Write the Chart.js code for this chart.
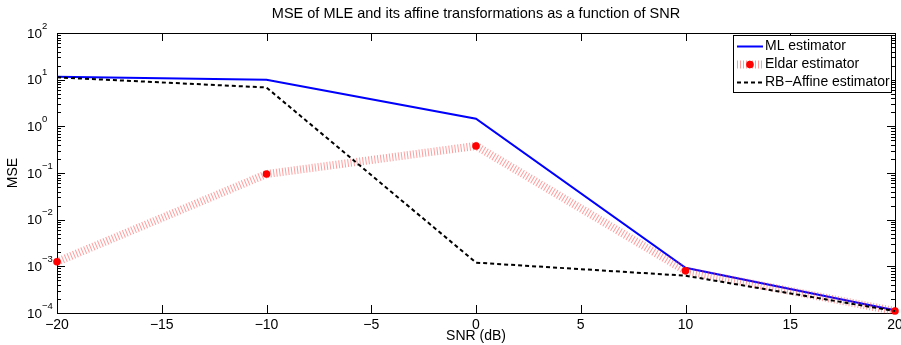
<!DOCTYPE html>
<html><head><meta charset="utf-8">
<script src="https://cdn.jsdelivr.net/npm/chart.js@4"></script>
<style>html,body{margin:0;padding:0;background:#fff;overflow:hidden}</style>
</head><body>
<canvas id="c" width="901" height="345"></canvas>
<script>
// ---- data ----
const snrDb = [-20, -10, 0, 10, 20];
const mlMSE = [11.5, 10.0, 1.45, 9.3e-4, 1.15e-4];
const eldarMSE = [1.25e-3, 0.095, 0.38, 8.0e-4, 1.1e-4];
const rbAffineMSE = [11.2, 6.8, 1.2e-3, 6.3e-4, 1.1e-4];
const seriesNames = ['ML estimator', 'Eldar estimator', 'RB\u2212Affine estimator'];
const xTickValues = [-20, -15, -10, -5, 0, 5, 10, 15, 20];
const yTickExponents = [-4, -3, -2, -1, 0, 1, 2];
const titleText = 'MSE of MLE and its affine transformations as a function of SNR';
const xLabel = 'SNR (dB)';
const yLabel = 'MSE';

const FONT = "'Liberation Sans', Arial, Helvetica, sans-serif";
Chart.defaults.font.family = FONT;
Chart.defaults.font.size = 14;
Chart.defaults.color = '#000';

const yTickValues = yTickExponents.map(e => Math.pow(10, e));
const yMinorValues = [];
for (let i = 0; i < yTickExponents.length - 1; i++) {
  for (let k = 2; k <= 9; k++) yMinorValues.push(k * Math.pow(10, yTickExponents[i]));
}

const axesPlugin = {
  id: 'matlabAxes',
  beforeDatasetsDraw(chart) {
    const {ctx, chartArea: a, scales: {x, y}} = chart;
    ctx.save();
    ctx.strokeStyle = '#000';
    ctx.lineWidth = 1;
    ctx.beginPath();
    xTickValues.forEach(v => {
      const px = Math.round(x.getPixelForValue(v)) + 0.5;
      ctx.moveTo(px, a.bottom); ctx.lineTo(px, a.bottom - 8);
      ctx.moveTo(px, a.top); ctx.lineTo(px, a.top + 8);
    });
    yTickValues.forEach(v => {
      const py = Math.round(y.getPixelForValue(v)) + 0.5;
      ctx.moveTo(a.left, py); ctx.lineTo(a.left + 8, py);
      ctx.moveTo(a.right, py); ctx.lineTo(a.right - 8, py);
    });
    yMinorValues.forEach(v => {
      const py = Math.round(y.getPixelForValue(v)) + 0.5;
      ctx.moveTo(a.left, py); ctx.lineTo(a.left + 4, py);
      ctx.moveTo(a.right, py); ctx.lineTo(a.right - 4, py);
    });
    ctx.stroke();
    ctx.strokeRect(Math.round(a.left) + 0.5, Math.round(a.top) + 0.5,
                   Math.round(a.right - a.left), Math.round(a.bottom - a.top));
    ctx.fillStyle = '#000';
    ctx.textBaseline = 'middle';
    yTickExponents.forEach(e => {
      const py = y.getPixelForValue(Math.pow(10, e));
      ctx.font = '13.5px ' + FONT;
      ctx.textAlign = 'right';
      ctx.fillText('10', a.left - 15, py + 1);
      ctx.font = '9.5px ' + FONT;
      ctx.textAlign = 'left';
      ctx.fillText(String(e).replace('-', '\u2212'), a.left - 15, py - 7);
    });
    ctx.restore();
  },
  afterDatasetsDraw(chart) {
    const {ctx} = chart;
    const L = 733, T = 35, R = 891, B = 92;
    ctx.save();
    ctx.fillStyle = '#fff';
    ctx.fillRect(L, T, R - L, B - T);
    ctx.strokeStyle = '#000';
    ctx.lineWidth = 1;
    ctx.strokeRect(L + 0.5, T + 0.5, R - L, B - T);
    const rows = [46, 64, 82];
    const x0 = 737, x1 = 763;
    chart.data.datasets.forEach((ds, i) => {
      const yy = rows[i] + 0.5;
      ctx.save();
      ctx.strokeStyle = ds.borderColor;
      ctx.lineWidth = ds.borderWidth;
      ctx.setLineDash(ds.borderDash || []);
      ctx.lineCap = 'butt';
      ctx.beginPath(); ctx.moveTo(x0, yy); ctx.lineTo(x1, yy); ctx.stroke();
      ctx.restore();
      if (ds.pointRadius > 0) {
        ctx.fillStyle = ds.pointBackgroundColor;
        ctx.beginPath(); ctx.arc((x0 + x1) / 2, yy, ds.pointRadius, 0, Math.PI * 2); ctx.fill();
      }
      ctx.fillStyle = '#000';
      ctx.font = '14px ' + FONT;
      ctx.textAlign = 'left';
      ctx.textBaseline = 'middle';
      ctx.fillText(ds.label, 765, yy);
    });
    ctx.restore();
  }
};

new Chart(document.getElementById('c'), {
  type: 'line',
  data: {
    datasets: [
      { label: seriesNames[0], data: snrDb.map((s, i) => ({x: s, y: mlMSE[i]})),
        borderColor: '#0000ff', borderWidth: 2, pointRadius: 0, order: 3, tension: 0, clip: false },
      { label: seriesNames[1], data: snrDb.map((s, i) => ({x: s, y: eldarMSE[i]})),
        borderColor: 'rgba(255,60,60,0.5)', borderWidth: 8, borderDash: [1, 2], borderCapStyle: 'butt',
        pointRadius: 3.8, pointBackgroundColor: '#ff0000', pointBorderWidth: 0, pointBorderColor: '#ff0000',
        order: 2, tension: 0, clip: false },
      { label: seriesNames[2], data: snrDb.map((s, i) => ({x: s, y: rbAffineMSE[i]})),
        borderColor: '#000000', borderWidth: 2, borderDash: [4, 3], pointRadius: 0, order: 1, tension: 0, clip: false }
    ]
  },
  options: {
    responsive: false,
    animation: false,
    events: [],
    layout: { padding: { right: 6, left: 0, top: 0, bottom: 0 } },
    plugins: {
      legend: { display: false },
      tooltip: { enabled: false },
      title: { display: true, text: titleText, fullSize: false,
               font: { size: 14.5, weight: 'normal' }, padding: { top: 5.3, bottom: 10.3 } }
    },
    scales: {
      x: {
        type: 'linear', min: -20, max: 20,
        afterBuildTicks: s => { s.ticks = xTickValues.map(v => ({value: v})); },
        afterFit: s => { s.height = 32; s.paddingLeft = 0; s.paddingRight = 0; },
        ticks: { autoSkip: false, maxRotation: 0, padding: 4,
                 callback: v => String(v).replace('-', '\u2212') },
        grid: { display: false, drawTicks: false },
        border: { display: false },
        title: { display: true, text: xLabel, padding: { top: 0, bottom: 0 } }
      },
      y: {
        type: 'logarithmic', min: 1e-4, max: 100,
        afterBuildTicks: s => { s.ticks = yTickValues.map(v => ({value: v})); },
        afterFit: s => { s.width = 57; s.paddingTop = 0; s.paddingBottom = 0; },
        ticks: { display: false },
        grid: { display: false, drawTicks: false },
        border: { display: false },
        title: { display: true, text: yLabel, padding: { top: 5, bottom: 0 } }
      }
    }
  },
  plugins: [axesPlugin]
});
</script>
</body></html>
